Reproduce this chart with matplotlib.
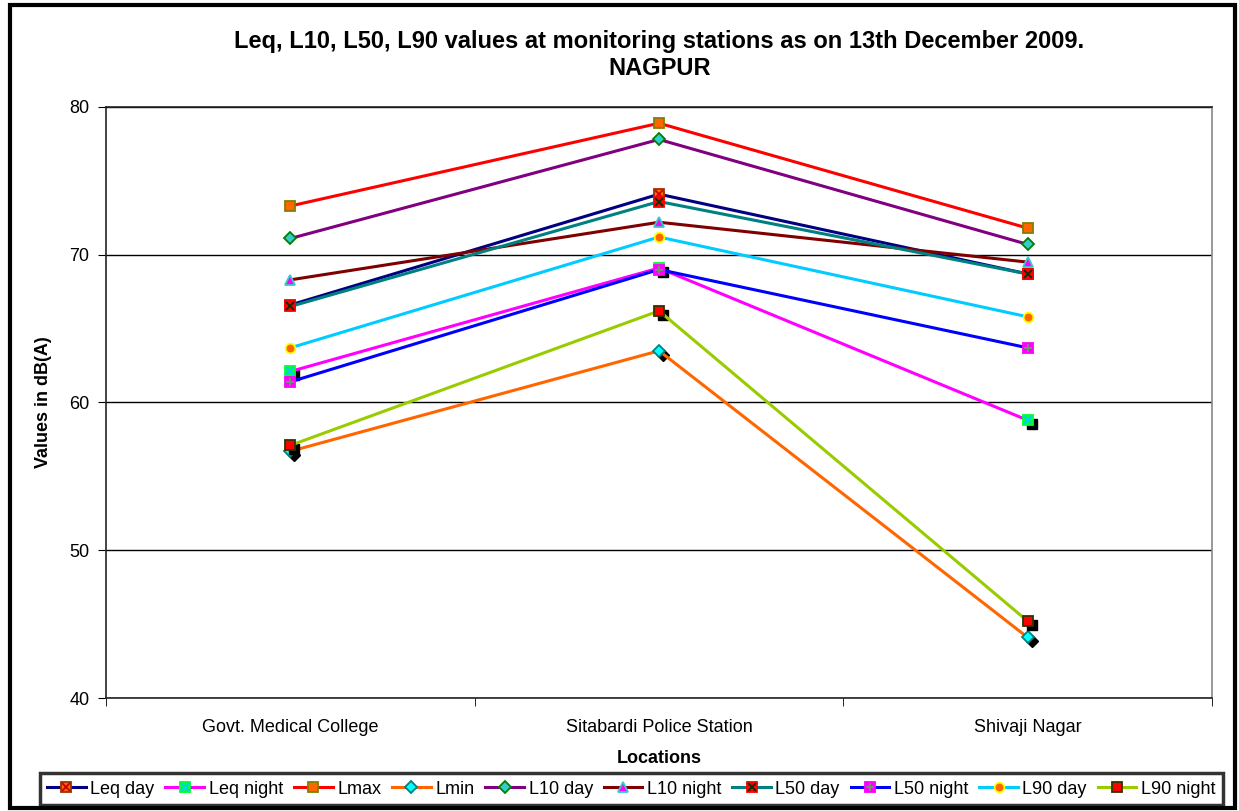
import matplotlib
matplotlib.use("Agg")
import matplotlib.pyplot as plt
from matplotlib.patches import Rectangle
from matplotlib.transforms import offset_copy

plt.rcParams["font.family"] = ["Liberation Sans", "DejaVu Sans"]

locations = ["Govt. Medical College", "Sitabardi Police Station", "Shivaji Nagar"]

leq_day = [66.6, 74.1, 68.7]
leq_night = [62.1, 69.1, 58.8]
lmax = [73.3, 78.9, 71.8]
lmin = [56.7, 63.5, 44.1]
l10_day = [71.1, 77.8, 70.7]
l10_night = [68.3, 72.2, 69.5]
l50_day = [66.5, 73.6, 68.7]
l50_night = [61.4, 69.0, 63.7]
l90_day = [63.7, 71.2, 65.8]
l90_night = [57.1, 66.2, 45.2]

# label, values, line colour, marker, face, edge, overlay marker, overlay colour, shadow
series = [
    ("Leq day", leq_day, "#000080", "s", "#FF6600", "#993300", "x", "#CC0000", False),
    ("Leq night", leq_night, "#FF00FF", "s", "#00FF33", "#00FF33", "x", "#00CCFF", True),
    ("Lmax", lmax, "#FF0000", "s", "#FF6600", "#808000", None, None, False),
    ("Lmin", lmin, "#FF6600", "D", "#00FFFF", "#008080", None, None, True),
    ("L10 day", l10_day, "#800080", "D", "#33CCCC", "#008000", None, None, False),
    ("L10 night", l10_night, "#800000", "^", "#FF00FF", "#33CCCC", None, None, False),
    ("L50 day", l50_day, "#008080", "s", "#FF0000", "#FF0000", "x", "#003300", False),
    ("L50 night", l50_night, "#0000FF", "s", "#FF00FF", "#FF00FF", "+", "#669966", False),
    ("L90 day", l90_day, "#00CCFF", "o", "#FF6600", "#FFFF00", None, None, False),
    ("L90 night", l90_night, "#99CC00", "s", "#FF0000", "#333300", None, None, True),
]

fig = plt.figure(figsize=(12.39, 8.11), dpi=100)
ax = fig.add_axes([0.0856, 0.1393, 0.8926, 0.7288])

x = list(range(len(locations)))
shadow = offset_copy(ax.transData, fig=fig, x=4, y=-4, units="dots")

handles = []
for i, (lab, vals, lc, mk, mf, me, ov, oc, sh) in enumerate(series):
    z = 3 + i
    if sh:
        ax.plot(x, vals, ls="none", marker=mk, ms=6.5, mfc="black", mec="black",
                transform=shadow, zorder=z - 0.5)
    h, = ax.plot(x, vals, color=lc, lw=2.2, marker=mk, ms=7 if mk != "D" else 6,
                 mfc=mf, mec=me, mew=1.3, zorder=z, label=lab)
    if ov:
        o, = ax.plot(x, vals, ls="none", marker=ov, ms=6, mec=oc, mew=1.3, zorder=z + 0.1)
        handles.append((h, o))
    else:
        handles.append(h)

ax.set_xlim(-0.5, 2.5)
ax.set_ylim(40, 80)
ax.set_yticks([40, 50, 60, 70, 80])
ax.yaxis.grid(True, color="black", lw=1)
ax.set_axisbelow(True)
ax.set_xticks(x)
ax.set_xticklabels(locations)
ax.set_xticks([-0.5, 0.5, 1.5, 2.5], minor=True)
ax.tick_params(axis="x", which="major", length=0, pad=15, labelsize=13)
ax.tick_params(axis="x", which="minor", length=6, direction="out")
ax.tick_params(axis="y", length=6, direction="out", labelsize=13, pad=6)

for s in ax.spines.values():
    s.set_color("#222222")
    s.set_linewidth(1.2)
ax.spines["right"].set_color("#888888")

ax.set_xlabel("Locations", fontsize=13, fontweight="bold", labelpad=10)
ax.set_ylabel("Values in dB(A)", fontsize=13, fontweight="bold", labelpad=12)

fig.text(0.532, 0.949, "Leq, L10, L50, L90 values at monitoring stations as on 13th December 2009.",
         ha="center", va="center", fontsize=17, fontweight="bold")
fig.text(0.532, 0.916, "NAGPUR", ha="center", va="center", fontsize=17, fontweight="bold")

labels = [s[0] for s in series]
leg = fig.legend(handles, labels, loc="center", bbox_to_anchor=(0.5095, 0.027), ncol=10,
                 fontsize=13, frameon=True, fancybox=False, handlelength=2.15,
                 handletextpad=0.25, columnspacing=0.6, borderpad=0.4, borderaxespad=0,
                 edgecolor="black")
leg.get_frame().set_linewidth(2.5)

fig.patches.append(Rectangle((0.008, 0.004), 0.989, 0.99, transform=fig.transFigure,
                             fill=False, edgecolor="black", lw=3))

fig.savefig("out.png", dpi=100)
